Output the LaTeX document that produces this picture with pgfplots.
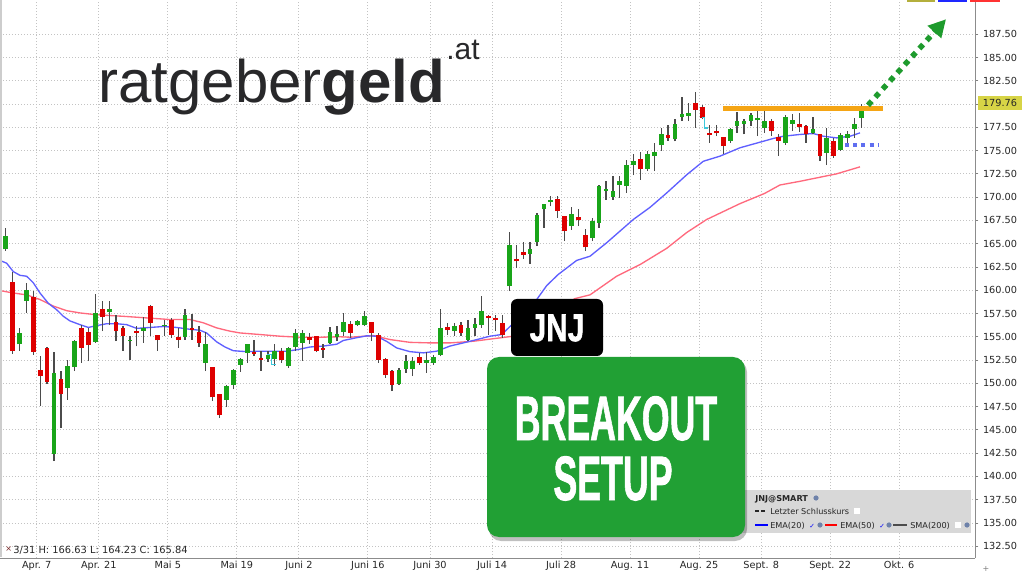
\documentclass[border=0pt]{standalone}
\usepackage{pgfplots}
\pgfplotsset{compat=1.18}
\usepackage{pgfplotstable}
\usepackage{graphicx}
\usepackage{fontspec}
\usetikzlibrary{arrows.meta}
\setmainfont{DejaVu Sans}
\newfontfamily\logofont{Liberation Sans}
\newfontfamily\boxfont[FakeBold=1.5]{Liberation Sans Bold}

\definecolor{cgreen}{RGB}{25,165,25}
\definecolor{cred}{RGB}{222,0,0}
\definecolor{wick}{RGB}{75,75,75}
\definecolor{emablue}{RGB}{95,95,255}
\definecolor{emared}{RGB}{255,105,125}
\definecolor{gridc}{RGB}{195,195,195}
\definecolor{axisc}{RGB}{140,140,140}
\definecolor{leftc}{RGB}{205,205,205}
\definecolor{orangeline}{RGB}{245,165,20}
\definecolor{arrowgreen}{RGB}{30,155,45}
\definecolor{boxgreen}{RGB}{33,160,52}
\definecolor{dotblue}{RGB}{95,110,240}
\definecolor{hl}{RGB}{215,212,70}
\definecolor{legendgray}{RGB}{216,216,216}
\definecolor{logogray}{RGB}{40,40,42}
\definecolor{cyanm}{RGB}{60,200,220}
\definecolor{globe}{RGB}{110,130,170}
\definecolor{barolive}{RGB}{180,175,60}
\definecolor{barblue}{RGB}{30,40,255}
\definecolor{barred}{RGB}{255,50,50}
\definecolor{xred}{RGB}{120,40,40}

\pgfplotstableread{
i o h l c
0 164.40 166.63 164.23 165.84
2 154.17 155.95 153.52 155.41
3 158.89 160.78 157.56 159.97
7 142.41 153.34 141.63 151.12
9 149.50 152.55 148.26 151.83
10 151.73 154.70 151.30 154.52
13 154.45 159.60 154.34 157.56
15 157.67 158.80 156.31 157.93
18 154.52 155.06 152.55 154.70
20 155.60 157.10 154.34 155.95
23 156.13 156.85 155.06 156.31
26 154.95 158.03 154.70 157.39
29 152.19 155.52 151.30 154.23
32 148.26 149.80 147.43 149.74
33 149.87 151.50 149.36 151.48
34 152.02 152.70 151.23 152.66
35 153.27 154.20 152.19 154.17
38 152.60 153.50 152.30 153.00
39 152.66 154.17 151.84 153.45
41 151.84 153.85 151.65 153.80
42 153.88 155.84 153.52 155.41
43 154.34 155.78 152.45 155.41
47 154.30 156.10 154.20 155.50
48 154.95 156.13 154.52 155.35
49 155.52 157.56 155.06 156.56
51 156.24 156.85 156.13 156.74
52 156.21 157.82 156.13 157.28
57 149.93 151.60 149.87 151.48
58 151.59 153.02 151.12 152.37
59 151.59 152.80 150.76 152.37
61 152.19 153.37 151.12 152.48
62 152.19 153.00 152.00 152.80
63 153.02 157.93 152.90 155.95
65 155.60 156.49 155.06 156.13
67 154.70 156.85 154.52 155.95
68 155.95 157.03 155.06 156.42
69 156.31 159.36 155.95 157.82
73 160.43 166.23 159.89 164.91
76 163.90 165.19 162.83 164.48
77 165.16 168.30 164.73 168.13
78 168.67 169.31 166.69 169.21
79 169.50 170.10 169.00 169.74
82 166.88 168.92 166.52 168.20
85 165.62 167.77 165.26 167.41
86 167.23 171.35 166.69 171.17
87 170.66 171.71 169.74 170.92
88 169.99 172.25 169.74 170.71
89 171.35 172.25 169.92 171.71
90 171.17 174.04 170.45 173.43
91 173.50 174.64 172.35 173.93
93 173.07 174.93 172.78 174.58
94 174.40 175.82 172.78 174.86
95 175.58 177.43 175.00 176.79
97 176.19 178.34 176.00 177.86
98 178.62 180.73 178.15 178.98
99 178.69 180.12 178.15 179.05
105 176.08 177.40 175.82 177.33
106 177.62 179.15 176.90 178.15
107 177.90 178.44 176.73 178.15
108 178.15 179.05 177.62 178.87
109 178.23 179.30 176.54 178.51
110 177.43 179.23 176.90 178.15
113 175.82 178.87 175.65 178.58
114 177.86 178.94 177.08 178.23
117 176.90 178.58 176.73 177.33
119 174.75 177.43 173.43 176.36
121 175.11 176.90 174.93 176.62
122 176.36 177.08 175.82 176.83
123 177.37 178.51 176.36 177.86
124 178.50 180.00 177.44 179.76
}\up

\pgfplotstableread{
i o h l c
1 160.89 161.97 153.16 153.45
4 159.25 159.89 153.09 153.37
5 151.41 152.91 147.54 150.76
6 153.74 153.90 149.90 150.15
8 150.51 151.30 145.21 148.86
11 155.89 156.31 152.19 153.80
12 155.52 155.90 152.37 154.10
14 158.03 158.82 155.60 157.10
16 156.60 157.39 154.52 155.60
17 155.95 156.13 153.52 155.06
19 155.60 156.13 153.98 155.40
21 158.28 158.39 155.06 156.49
22 155.17 155.20 153.52 154.60
24 156.85 157.00 154.88 155.24
25 154.95 155.95 153.80 154.66
27 155.95 157.46 154.70 155.78
28 155.49 156.13 153.88 154.34
30 151.76 151.80 148.08 148.50
31 148.80 148.85 146.28 146.57
36 153.37 154.60 152.91 153.16
37 152.73 153.45 151.37 152.55
40 153.45 153.74 152.19 152.55
44 154.95 155.41 154.23 154.60
45 155.06 155.10 153.34 153.45
46 153.80 154.23 152.73 153.62
50 156.42 156.74 154.88 155.41
53 156.56 156.60 154.52 155.41
54 155.24 155.41 152.19 152.55
55 152.66 152.70 150.58 150.87
56 151.37 151.40 149.15 149.87
60 152.80 153.27 152.02 152.19
64 156.06 156.49 155.17 155.70
66 156.21 156.60 155.06 155.41
70 157.28 157.30 155.24 157.02
71 157.02 157.39 155.60 156.80
72 156.49 157.39 154.88 155.24
74 163.36 164.83 162.40 163.11
75 164.08 165.19 163.40 163.83
80 169.85 170.10 167.80 168.49
81 167.95 168.00 165.26 166.34
83 167.84 168.67 166.88 167.49
84 165.98 166.60 164.20 164.60
92 174.10 174.82 171.89 172.97
96 176.62 177.72 176.08 176.36
100 180.12 181.30 177.43 179.41
101 179.66 179.87 178.34 178.51
102 176.90 177.80 175.82 176.65
103 177.08 177.80 176.54 176.85
104 176.47 176.50 174.64 175.47
111 178.15 178.34 176.54 177.08
112 176.44 176.79 174.47 176.01
115 177.86 179.05 177.00 177.51
116 177.69 177.70 175.82 176.73
118 176.73 176.75 173.86 174.40
120 176.08 176.36 174.21 174.40
}\down

\pgfplotstableread{
i v
-0.83 163.2
0.14 162.9
1.10 162.0
2.07 161.6
3.04 161.5
4.00 160.8
4.97 159.7
6.17 158.6
7.39 157.9
8.35 157.2
9.32 156.7
10.77 156.3
11.97 156.0
13.19 156.2
14.64 156.4
16.09 156.4
17.54 156.3
18.99 155.9
20.91 156.0
22.84 156.1
24.78 156.0
26.71 155.8
28.16 155.7
29.13 155.4
30.58 154.45
31.78 153.9
32.99 153.5
34.93 153.4
36.86 153.45
38.78 153.45
40.72 153.45
42.17 153.6
44.10 153.9
46.03 154.0
47.97 154.2
48.93 154.6
50.87 154.9
52.32 155.1
53.77 155.06
55.22 154.5
56.67 153.8
58.59 153.4
60.52 153.27
62.46 153.45
64.39 154.0
67.77 154.6
70.19 155.06
71.88 155.24
73.09 156.1
75.01 157.39
76.96 159.0
78.41 160.5
80.09 161.7
82.75 163.2
84.68 163.65
87.10 165.1
90.96 167.6
93.38 168.9
95.80 170.45
98.70 172.4
101.10 173.85
103.52 174.4
106.42 175.3
109.32 175.9
111.25 176.3
112.70 176.54
115.12 176.73
117.04 176.83
118.49 176.54
120.43 176.36
122.36 176.54
123.81 176.9
}\ematwenty

\pgfplotstableread{
i v
-0.83 159.96
1.10 159.7
3.04 159.5
4.97 159.0
6.90 158.3
8.84 157.8
10.77 157.56
12.70 157.4
14.64 157.3
17.00 157.2
20.91 157.0
23.81 156.85
26.71 156.85
28.64 156.5
30.58 155.95
32.51 155.6
33.96 155.41
36.86 155.24
39.75 155.06
42.65 154.95
45.55 154.95
48.45 155.0
49.90 154.95
53.28 155.13
55.70 154.7
58.59 154.4
61.49 154.34
64.39 154.34
67.77 154.52
71.64 154.88
73.57 155.06
76.50 156.3
79.50 157.7
82.50 159.1
84.68 159.5
88.54 161.5
91.93 162.75
95.80 164.5
98.70 166.2
101.60 167.6
106.42 169.3
110.00 170.4
112.20 171.3
115.12 171.7
120.43 172.5
123.81 173.25
}\emafifty

\begin{document}
\begin{tikzpicture}[x=0.75pt,y=0.75pt]
\useasboundingbox (0,0) rectangle (1024,575);
\fill[white] (0,0) rectangle (1024,575);
\begin{axis}[
  at={(0,18)}, anchor=south west,
  scale only axis, width=731.25pt, height=417.75pt,
  xmin=-0.826, xmax=140.48, ymin=131.21, ymax=191.04,
  axis x line*=bottom, axis y line*=right,
  axis line style={draw=axisc, line width=0.75pt},
  xtick={4.49,13.49,23.49,33.49,42.49,52.49,61.49,70.49,80.49,90.49,100.49,109.49,119.49,129.49},
  xticklabels={Apr. 7,Apr. 21,Mai 5,Mai 19,Juni 2,Juni 16,Juni 30,Juli 14,Juli 28,Aug. 11,Aug. 25,Sept. 8,Sept. 22,Okt. 6},
  ytick={132.5,135,137.5,140,142.5,145,147.5,150,152.5,155,157.5,160,162.5,165,167.5,170,172.5,175,177.5,180,182.5,185,187.5},
  scaled y ticks=false,
  grid=major,
  major grid style={draw=gridc, line width=0.6pt, dash pattern=on 0.75pt off 1.5pt},
  xtick style={draw=none},
  ytick style={draw=gray, line width=0.6pt},
  major tick length=2.5pt,
  tick align=outside,
  ticklabel style={font=\fontsize{7.3}{8}\selectfont, text=black!85},
  yticklabel style={/pgf/number format/.cd, fixed, fixed zerofill, precision=2, assume math mode=true},
  xticklabel style={yshift=3.8pt},
]
\addplot[emared, line width=1pt, mark=none] table[x=i,y=v] {\emafifty};
\addplot[emablue, line width=1pt, mark=none] table[x=i,y=v] {\ematwenty};
% wicks
\addplot[draw=none, mark=none, error bars/.cd, y dir=plus, y explicit, error mark=none,
  error bar style={draw=wick, line width=1pt, solid}]
  table[x=i, y=l, y error expr=\thisrow{h}-\thisrow{l}] {\up};
\addplot[draw=none, mark=none, error bars/.cd, y dir=plus, y explicit, error mark=none,
  error bar style={draw=wick, line width=1pt, solid}]
  table[x=i, y=l, y error expr=\thisrow{h}-\thisrow{l}] {\down};
% bodies
\addplot[draw=none, mark=none, error bars/.cd, y dir=plus, y explicit, error mark=none,
  error bar style={draw=cgreen, line width=3.5pt, solid}]
  table[x=i, y=o, y error expr=\thisrow{c}-\thisrow{o}] {\up};
\addplot[draw=none, mark=none, error bars/.cd, y dir=plus, y explicit, error mark=none,
  error bar style={draw=cred, line width=3.5pt, solid}]
  table[x=i, y=c, y error expr=\thisrow{o}-\thisrow{c}] {\down};
% cyan step markers
\draw[cyanm, line width=0.9pt] (axis cs:37.8,153.09) -- (axis cs:38.55,153.09) -- (axis cs:38.55,152.02) -- (axis cs:39.2,152.02);
\draw[cyanm, line width=0.9pt] (axis cs:100.9,178.51) -- (axis cs:101.25,178.51) -- (axis cs:101.25,177.43) -- (axis cs:101.8,177.43);
% annotations
\draw[orangeline, line width=3.8pt] (axis cs:104,179.5) -- (axis cs:127.1,179.5);
\draw[dotblue, line width=3pt, dash pattern=on 3pt off 3.2pt] (axis cs:121.6,175.65) -- (axis cs:126.6,175.65);
\draw[arrowgreen, line width=4.1pt, dash pattern=on 4.1pt off 4.1pt, -{Triangle[length=13pt,width=13pt]}]
  (axis cs:124.97,179.87) -- (axis cs:136.28,189.11);
\end{axis}

\begin{scope}[yshift=431.25pt, yscale=-1]
\draw[leftc, line width=1.2pt] (1.2,0) -- (1.2,557);
% price highlight
\node[fill=hl, inner sep=0pt, minimum width=33pt, minimum height=10.5pt, font=\fontsize{7.3}{8}\selectfont, text=black!85] at (1000,103) {179.76};

% top right bars
\fill[barolive] (907,0) rectangle (935,2.2);
\fill[barblue] (938,0) rectangle (967,2.2);
\fill[barred] (970,0) rectangle (1000,2.2);

% logo
\node[anchor=base west, inner sep=0pt, text=logogray] at (98,103) {\logofont\fontsize{45}{45}\selectfont ratgeber\textbf{geld}};
\node[anchor=base west, inner sep=0pt, text=logogray] at (446,60) {\logofont\fontsize{22.5}{22.5}\selectfont .at};

% info line
\node[anchor=base west, inner sep=0pt, font=\fontsize{6}{7}\selectfont, text=xred] at (5,551) {×};
\node[anchor=base west, inner sep=0pt, font=\fontsize{7.4}{8}\selectfont, text=black!85] at (13,553) {3/31 H: 166.63 L: 164.23 C: 165.84};

% legend box
\fill[legendgray] (741,490) rectangle (971,533);
\node[anchor=base west, inner sep=0pt, font=\fontsize{6.1}{7}\selectfont\bfseries, text=black!85] at (755,501) {JNJ@SMART};
\fill[globe] (816,498) circle (2.6);
\draw[black!85, line width=0.8pt, dash pattern=on 3pt off 1.5pt] (755,511) -- (767,511);
\node[anchor=base west, inner sep=0pt, font=\fontsize{6.1}{7}\selectfont, text=black!85] at (770,514.5) {Letzter Schlusskurs};
\fill[white] (854,508) rectangle (860,514);
\draw[blue, line width=1.2pt] (755,525) -- (768,525);
\node[anchor=base west, inner sep=0pt, font=\fontsize{6.1}{7}\selectfont, text=black!85] at (770,528.5) {EMA(20)};
\node[anchor=base west, inner sep=0pt, font=\fontsize{5}{6}\selectfont, text=blue] at (809,528) {✓};
\fill[globe] (820,525) circle (2.6);
\draw[red, line width=1.2pt] (825,525) -- (837,525);
\node[anchor=base west, inner sep=0pt, font=\fontsize{6.1}{7}\selectfont, text=black!85] at (840,528.5) {EMA(50)};
\node[anchor=base west, inner sep=0pt, font=\fontsize{5}{6}\selectfont, text=blue] at (879,528) {✓};
\fill[globe] (889,525) circle (2.6);
\draw[black!70, line width=1.2pt] (893,525) -- (907,525);
\node[anchor=base west, inner sep=0pt, font=\fontsize{6.1}{7}\selectfont, text=black!85] at (910,528.5) {SMA(200)};
\fill[white] (955,522) rectangle (961,528);
\fill[globe] (967,525) circle (2.6);

% JNJ box
\fill[black, rounded corners=4.5pt] (511,299) rectangle (603,356);
\node[text=white, inner sep=0pt] at (557,328) {\boxfont\fontsize{29}{29}\selectfont\scalebox{0.77}[1]{JNJ}};

% green box
\fill[black, opacity=0.25, rounded corners=9pt] (489,360) rectangle (747,541);
\fill[boxgreen, rounded corners=9pt] (487,357) rectangle (745,537);
\node[anchor=base, inner sep=0pt, text=white] at (616,440) {\boxfont\fontsize{47}{47}\selectfont\scalebox{0.57}[1]{BREAKOUT}};
\node[anchor=base, inner sep=0pt, text=white] at (613,500) {\boxfont\fontsize{47}{47}\selectfont\scalebox{0.57}[1]{SETUP}};

\node[inner sep=0pt, font=\fontsize{6}{7}\selectfont, text=gray] at (986,569) {+};
\end{scope}
\end{tikzpicture}
\end{document}
